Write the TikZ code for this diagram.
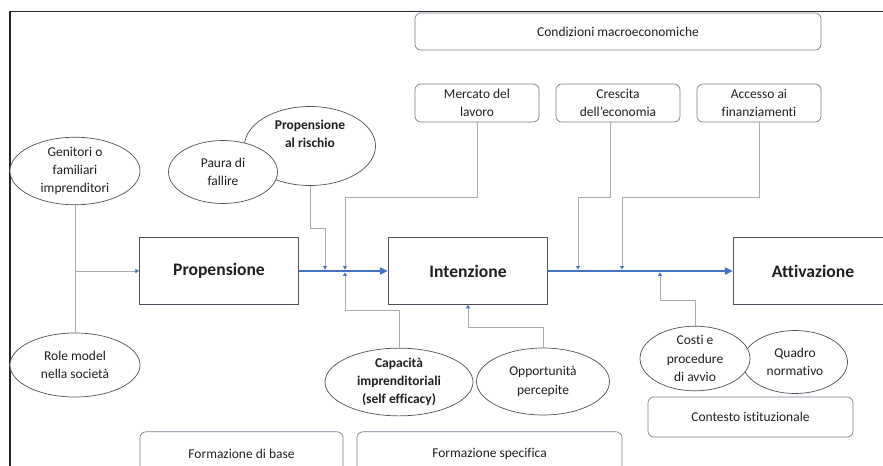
\documentclass[tikz,border=0pt]{standalone}
\usepackage{fontspec}
\setmainfont{Carlito}[Ligatures={NoCommon,NoContextual}]
\usetikzlibrary{arrows.meta,shapes.geometric}
\definecolor{figink}{HTML}{1F1F1F}
\definecolor{figedge}{HTML}{50505E}
\definecolor{figsoft}{HTML}{7A7A90}
\definecolor{figblue}{HTML}{4472C4}
\definecolor{figlink}{HTML}{ABABAB}
\definecolor{figframe}{HTML}{262626}

\begin{document}
\begin{tikzpicture}[x=.03cm,y=-.03cm,
    stagebox/.style={draw=figedge,line width=.6pt,minimum width=4.78cm,minimum height=2.01cm,
      font=\fontsize{15}{18}\selectfont\bfseries,text=figink},
    factorbox/.style={draw=figsoft,rounded corners=5pt,line width=.6pt,minimum width=3.72cm,
      minimum height=1.14cm,align=center,font=\fontsize{11.5}{15.5}\selectfont,text=figink},
    factorblob/.style={ellipse,draw=figedge,fill=white,line width=.6pt,inner sep=0pt,
      align=center,font=\fontsize{11.5}{15.5}\selectfont,text=figink},
    feed/.style={figlink,line width=.6pt},
    feedtip/.style={feed,-{Triangle[length=3pt,width=3.4pt,color=figblue]}},
    mainflow/.style={figblue,line width=2pt,-{Triangle[length=7pt,width=6pt]}}]
    \path[use as bounding box] (0,0) rectangle (883,465);

    % Frame of the figure, cut by the page on the right and at the bottom.
    \draw[figframe,line width=1.1pt] (10,470) -- (10,11.5) -- (890,11.5);

    % The three stages of the entrepreneurial process.
    \node[stagebox] (prop) at (219,271) {Propensione};
    \node[stagebox] (inten) at (468,271) {Intenzione};
    \node[stagebox] (attiv) at (813,271) {Attivazione};

    % Macroeconomic conditions on top.
    \node[factorbox,minimum width=12.18cm,minimum height=1.11cm] (macro) at (618,31.5)
      {Condizioni macroeconomiche};
    \node[factorbox] (mercato) at (477,103) {Mercato del\\lavoro};
    \node[factorbox] (crescita) at (618,103) {Crescita\\dell'economia};
    \node[factorbox] (accesso) at (759,103) {Accesso ai\\finanziamenti};

    % Personal and social factors.
    \node[factorblob,minimum width=3.9cm,minimum height=1.92cm] (genitori) at (75,171)
      {Genitori o\\familiari\\imprenditori};
    \node[factorblob,minimum width=3.9cm,minimum height=1.92cm] (rolemodel) at (75,365)
      {Role model\\nella società};
    \node[factorblob,minimum width=3.93cm,minimum height=2.37cm,font=\fontsize{11.5}{15.5}\selectfont\bfseries]
      (rischio) at (310,146) {Propensione\\al rischio\\[6pt]};
    \node[factorblob,minimum width=3.27cm,minimum height=1.89cm] (paura) at (223,172)
      {Paura di\\fallire};
    \node[factorblob,minimum width=4.44cm,minimum height=1.95cm,font=\fontsize{11.5}{15.5}\selectfont\bfseries]
      (capacita) at (399,382) {Capacità\\imprenditoriali\\(self efficacy)};
    \node[factorblob,minimum width=3.99cm,minimum height=2.01cm] (opport) at (543,381.5)
      {Opportunità\\percepite};

    % Institutional context.
    \node[factorblob,minimum width=3.15cm,minimum height=1.89cm] (quadro) at (795,362)
      {Quadro\\normativo};
    \node[factorblob,minimum width=3.3cm,minimum height=1.89cm] (costi) at (695,358.5)
      {Costi e\\procedure\\di avvio};
    \node[factorbox,minimum width=6.15cm,minimum height=1.2cm] (contesto) at (750.5,417)
      {Contesto istituzionale};

    % Education, cut by the bottom of the page.
    \node[factorbox,minimum width=6.09cm,minimum height=1.3cm] (formbase) at (241.5,453.5)
      {Formazione di base};
    \node[factorbox,minimum width=7.95cm,minimum height=1.3cm] (formspec) at (489.5,453.5)
      {Formazione specifica};

    % Main flow between the stages.
    \draw[mainflow] (prop.east) -- (inten.west);
    \draw[mainflow] (inten.east) -- (attiv.west);

    % Family and role models feed the propensity.
    \draw[feed] (genitori.south) -- (rolemodel.north);
    \draw[feedtip] (genitori.south |- prop.west) -- (prop.west);

    % Factors acting on the first arrow.
    \coordinate (riskdrop) at (325,228);
    \coordinate (labourdrop) at (345,197);
    \coordinate (skillrise) at (345,310);
    \draw[feedtip] (rischio.south) |- (riskdrop) -- ([yshift=1.2pt]riskdrop |- prop.east);
    \draw[feedtip] (mercato.south) |- (labourdrop) -- ([yshift=1.2pt]labourdrop |- prop.east);
    \draw[feedtip] (capacita.north) |- (skillrise) -- ([yshift=-1.2pt]skillrise |- prop.east);

    % Perceived opportunities act on the intention itself.
    \coordinate (opprise) at (468,327);
    \draw[feedtip] (opport.north) |- (opprise) -- (inten.south);

    % Factors acting on the second arrow.
    \coordinate (growthdrop) at (578,197);
    \coordinate (creditdrop) at (622,197);
    \coordinate (costrise) at (660,300);
    \draw[feedtip] ([xshift=-.24cm]crescita.south) |- (growthdrop)
      -- ([yshift=1.2pt]growthdrop |- inten.east);
    \draw[feedtip] (accesso.south) |- (creditdrop) -- ([yshift=1.2pt]creditdrop |- inten.east);
    \draw[feedtip] (costi.north) |- (costrise) -- ([yshift=-1.2pt]costrise |- inten.east);
  \end{tikzpicture}
\end{document}
